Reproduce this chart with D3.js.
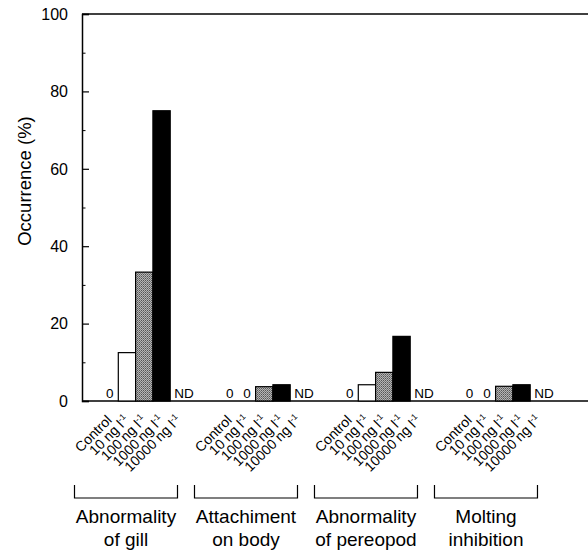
<!DOCTYPE html>
<html><head><meta charset="utf-8">
<script src="https://cdn.jsdelivr.net/npm/d3@7"></script>
<style>body{margin:0;background:#fff}svg{display:block}text{font-family:"Liberation Sans",Arial,Helvetica,sans-serif;fill:#000}</style>
</head><body>
<svg id="c" width="588" height="553"></svg>
<script>
const groups = ["Abnormality of gill","Attachiment on body","Abnormality of pereopod","Molting inhibition"];
const groupLines = [["Abnormality","of gill"],["Attachiment","on body"],["Abnormality","of pereopod"],["Molting","inhibition"]];
const doses = ["Control","10 ng l","100 ng l","1000 ng l","10000 ng l"];
const doseSup = ["","-1","-1","-1","-1"];
// values per group, by dose; null = ND
const gill     = [0, 12.5, 33.3, 75.0, null];
const body     = [0, 0, 3.7, 4.2, null];
const pereopod = [0, 4.2, 7.4, 16.7, null];
const molting  = [0, 0, 3.8, 4.2, null];
const values = [gill, body, pereopod, molting];
const yTicks = [0,20,40,60,80,100];
const yMinor = [10,30,50,70,90];

const svg = d3.select("#c");
const y = d3.scaleLinear().domain([0,100]).range([401,14]);
const gx = d3.scaleBand().domain(groups).range([101,547.5]).paddingInner(0.279).paddingOuter(0);
const dx = d3.scaleBand().domain(doses).range([0,gx.bandwidth()]).padding(0);

const defs = svg.append("defs");
const pat = defs.append("pattern").attr("id","stip").attr("width",2).attr("height",2).attr("patternUnits","userSpaceOnUse");
pat.append("rect").attr("width",2).attr("height",2).attr("fill","#b5b5b5");
pat.append("rect").attr("width",1).attr("height",1).attr("fill","#555");
pat.append("rect").attr("x",1).attr("y",1).attr("width",1).attr("height",1).attr("fill","#777");
const fills = ["#fff","#fff","url(#stip)","#000","#000"];

// frame lines
svg.append("line").attr("x1",82).attr("x2",588).attr("y1",y(100)).attr("y2",y(100)).attr("stroke","#000").attr("stroke-width",1.3);
svg.append("line").attr("x1",82).attr("x2",588).attr("y1",y(0)).attr("y2",y(0)).attr("stroke","#000").attr("stroke-width",1.5);

// y axis
const ax = svg.append("g").attr("transform","translate(82,0)")
  .call(d3.axisRight(y).tickValues(yTicks).tickSize(7).tickFormat(""));
ax.select(".domain").attr("stroke-width",1.5);
ax.selectAll(".tick line").attr("stroke-width",1.2);
svg.append("g").attr("transform","translate(82,0)")
  .call(d3.axisRight(y).tickValues(yMinor).tickSize(3.5).tickFormat(""))
  .call(g=>g.select(".domain").remove());
svg.append("g").selectAll("text").data(yTicks).join("text")
  .attr("x",68).attr("y",d=>y(d)).attr("dy","0.36em").attr("text-anchor","end")
  .attr("font-size",16).text(d=>d);
svg.append("text").attr("transform","translate(31,181) rotate(-90)").attr("text-anchor","middle")
  .attr("font-size",18.5).text("Occurrence (%)");

// bars
groups.forEach((g,gi)=>{
  const gg = svg.append("g").attr("transform",`translate(${gx(g)},0)`);
  const data = doses.map((d,i)=>({dose:d,i,v:values[gi][i]}));
  gg.selectAll("rect").data(data.filter(d=>d.v!==null && d.v>0)).join("rect")
    .attr("x",d=>dx(d.dose)).attr("width",dx.bandwidth())
    .attr("y",d=>y(d.v)).attr("height",d=>y(0)-y(d.v))
    .attr("fill",d=>fills[d.i]).attr("stroke","#000").attr("stroke-width",1.2);
  gg.selectAll("text.z").data(data.filter(d=>d.v===0)).join("text").attr("class","z")
    .attr("x",d=>dx(d.dose)+dx.bandwidth()/2).attr("y",y(0)-3).attr("text-anchor","middle")
    .attr("font-size",13.5).text("0");
  gg.selectAll("text.nd").data(data.filter(d=>d.v===null)).join("text").attr("class","nd")
    .attr("x",d=>dx(d.dose)+4).attr("y",y(0)-3).attr("text-anchor","start")
    .attr("font-size",13.5).text("ND");
  // rotated dose labels
  const lab = gg.selectAll("text.dl").data(data).join("text").attr("class","dl")
    .attr("transform",d=>`translate(${dx(d.dose)+dx.bandwidth()/2+3},421) rotate(-45)`)
    .attr("text-anchor","end").attr("font-size",14);
  lab.text(d=>d.dose);
  lab.filter(d=>doseSup[d.i]).append("tspan").attr("font-size",8.5).attr("dy",-5.5).text(d=>doseSup[d.i]);
  // bracket
  const bc = gx(g)+25, bw = 103;
  svg.append("path").attr("d",`M${bc-bw/2},485V498H${bc+bw/2}V485`).attr("fill","none").attr("stroke","#000").attr("stroke-width",1.2);
  svg.append("text").attr("x",bc).attr("y",523).attr("text-anchor","middle").attr("font-size",19).text(groupLines[gi][0]);
  svg.append("text").attr("x",bc).attr("y",546).attr("text-anchor","middle").attr("font-size",19).text(groupLines[gi][1]);
});
</script>
</body></html>
